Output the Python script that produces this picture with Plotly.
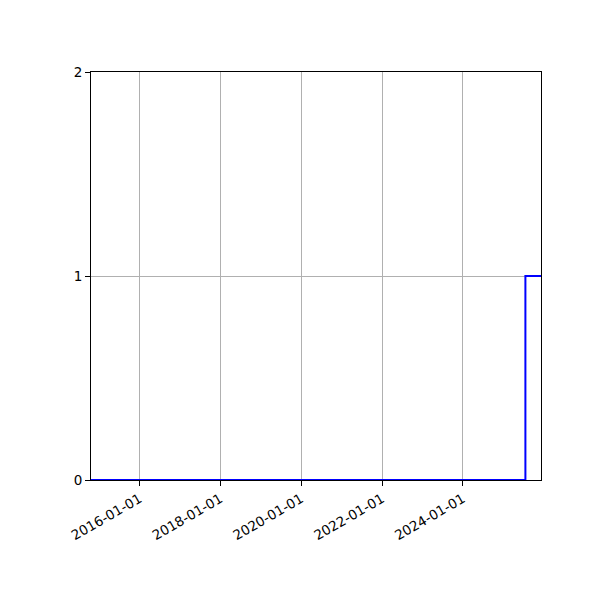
import plotly.graph_objects as go

# step series
dates = ["2014-10-20", "2025-07-20", "2025-12-08"]
values = [0, 1, 1]

x_range = ["2014-10-20", "2025-12-08"]
x_ticks = ["2016-01-01", "2018-01-01", "2020-01-01", "2022-01-01", "2024-01-01"]
y_ticks = [0, 1, 2]

fig = go.Figure()
fig.add_trace(
    go.Scatter(
        x=dates,
        y=values,
        mode="lines",
        line=dict(color="#0000ff", width=2, shape="hv"),
        showlegend=False,
    )
)

axis_style = dict(
    showline=True,
    linecolor="black",
    linewidth=1,
    mirror=True,
    showgrid=True,
    gridcolor="#b0b0b0",
    gridwidth=1,
    ticks="outside",
    ticklen=5,
    tickcolor="black",
    zeroline=False,
    tickfont=dict(family="DejaVu Sans", size=13.5, color="black"),
)

fig.update_xaxes(
    type="date",
    range=x_range,
    tickvals=x_ticks,
    ticktext=x_ticks,
    tickangle=-30,
    **axis_style,
)
fig.update_yaxes(range=[0, 2], tickvals=y_ticks, **axis_style)

fig.update_layout(
    width=600,
    height=600,
    margin=dict(l=83, r=67, t=64, b=128),
    plot_bgcolor="white",
    paper_bgcolor="white",
)

fig.write_html("out.html")
